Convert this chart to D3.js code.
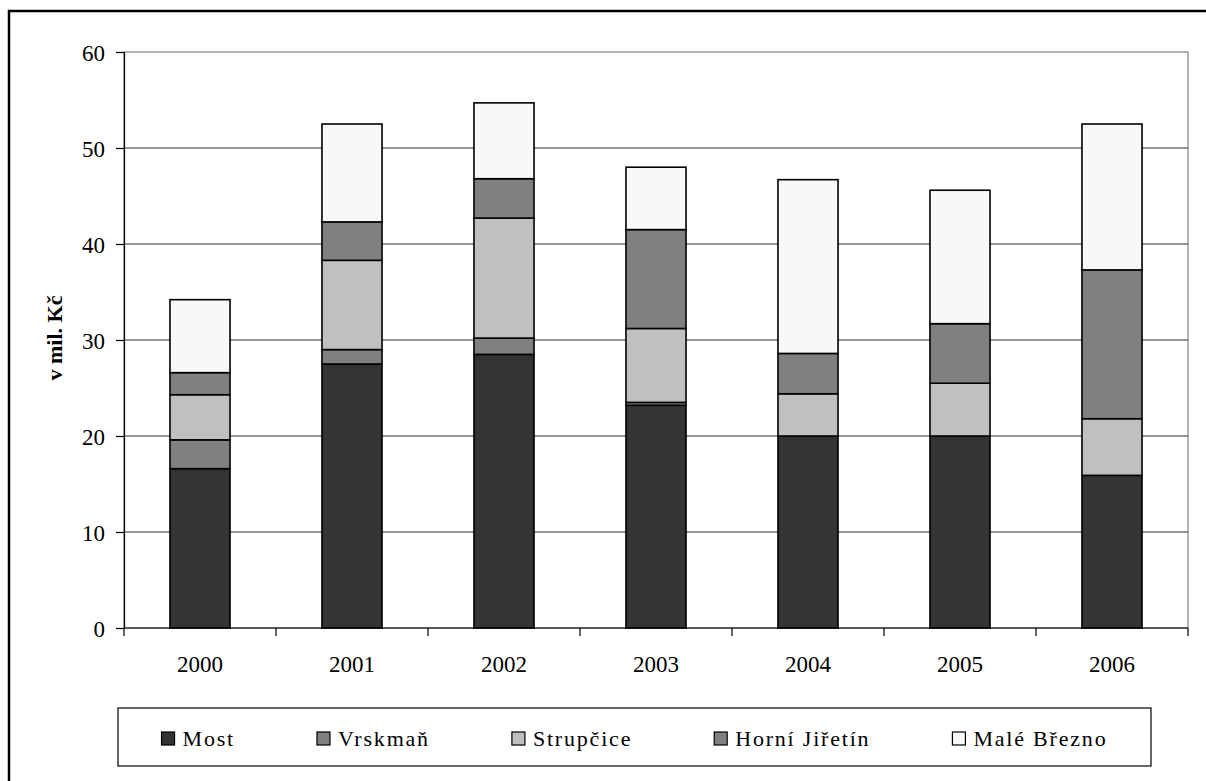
<!DOCTYPE html>
<html lang="cs">
<head>
    <meta charset="UTF-8">
    <title>v mil. Kč</title>
    <script src="https://d3js.org/d3.v7.min.js"></script>
    <style>
        body {
            margin: 0;
            background: #fff;
        }
        svg { display: block; }
        svg text { font-family: "Liberation Serif", "Times New Roman", "DejaVu Serif", serif; fill: #000; }
        .tick-label { font-size: 23px; }
        .legend-label { font-size: 22px; letter-spacing: 1.8px; }
    </style>
</head>
<body>
<svg width="1206" height="781"></svg>
<script>
    // Data (mil. Kč)
    const years = ["2000", "2001", "2002", "2003", "2004", "2005", "2006"];
    const seriesNames = ["Most", "Vrskmaň", "Strupčice", "Horní Jiřetín", "Malé Březno"];
    const most      = [16.6, 27.5, 28.5, 23.2, 20.0, 20.0, 15.9];
    const vrskman   = [3.0, 1.5, 1.7, 0.3, 0, 0, 0];
    const strupcice = [4.7, 9.3, 12.5, 7.7, 4.4, 5.5, 5.9];
    const horni     = [2.3, 4.0, 4.1, 10.3, 4.2, 6.2, 15.5];
    const maleBrezno = [7.6, 10.2, 7.9, 6.5, 18.1, 13.9, 15.2];
    const yTicks = [0, 10, 20, 30, 40, 50, 60];
    const fills = ["#333333", "#808080", "#c0c0c0", "#808080", "#f8f8f8"];

    const seriesValues = [most, vrskman, strupcice, horni, maleBrezno];
    const table = years.map((yr, i) => {
        const row = { year: yr };
        seriesNames.forEach((s, k) => row[s] = seriesValues[k][i]);
        return row;
    });

    const svg = d3.select("svg");
    const plotLeft = 124, plotRight = 1188, plotTop = 52, plotBottom = 628;

    // outer frame (right and bottom edges fall outside the picture)
    svg.append("rect")
        .attr("x", 9).attr("y", 11)
        .attr("width", 1220).attr("height", 800)
        .attr("fill", "none").attr("stroke", "#000").attr("stroke-width", 2.5);

    const x = d3.scaleBand().domain(years).range([plotLeft, plotRight])
        .paddingInner(0.605).paddingOuter(0.3025);
    const y = d3.scaleLinear().domain([0, 60]).range([plotBottom, plotTop]);

    // plot area border
    svg.append("rect")
        .attr("x", plotLeft).attr("y", plotTop)
        .attr("width", plotRight - plotLeft).attr("height", plotBottom - plotTop)
        .attr("fill", "none").attr("stroke", "#808080").attr("stroke-width", 1.2);

    // gridlines
    svg.append("g").selectAll("line")
        .data(yTicks.filter(t => t > 0 && t < 60))
        .join("line")
        .attr("x1", plotLeft).attr("x2", plotRight)
        .attr("y1", d => y(d)).attr("y2", d => y(d))
        .attr("stroke", "#333").attr("stroke-width", 1);

    // stacked bars
    const stack = d3.stack().keys(seriesNames)(table);
    svg.append("g").selectAll("g")
        .data(stack)
        .join("g")
        .attr("fill", (d, i) => fills[i])
        .selectAll("rect")
        .data(d => d.filter(p => p[1] - p[0] > 0))
        .join("rect")
        .attr("x", d => x(d.data.year))
        .attr("width", x.bandwidth())
        .attr("y", d => y(d[1]))
        .attr("height", d => y(d[0]) - y(d[1]))
        .attr("stroke", "#000")
        .attr("stroke-width", 1.6);

    // y axis
    const yAxis = svg.append("g").attr("transform", `translate(${plotLeft},0)`)
        .call(d3.axisLeft(y).tickValues(yTicks).tickSize(8).tickPadding(11));
    yAxis.attr("font-family", null).attr("font-size", null);
    yAxis.select(".domain").attr("stroke", "#000").attr("stroke-width", 1.2);
    yAxis.selectAll(".tick line").attr("stroke", "#000").attr("stroke-width", 1.2);
    yAxis.selectAll(".tick text")
        .attr("class", "tick-label")
        .attr("dy", "0.35em");

    // x axis: ticks at category boundaries
    const xAxis = svg.append("g").attr("transform", `translate(0,${plotBottom})`);
    xAxis.append("line")
        .attr("x1", plotLeft).attr("x2", plotRight)
        .attr("stroke", "#000").attr("stroke-width", 1.2);
    const step = x.step();
    xAxis.selectAll(".bnd")
        .data(d3.range(years.length + 1))
        .join("line")
        .attr("class", "bnd")
        .attr("x1", i => plotLeft + i * step).attr("x2", i => plotLeft + i * step)
        .attr("y1", 0).attr("y2", 8)
        .attr("stroke", "#000").attr("stroke-width", 1.2);
    xAxis.selectAll("text")
        .data(years)
        .join("text")
        .attr("class", "tick-label")
        .attr("x", d => x(d) + x.bandwidth() / 2)
        .attr("y", 44)
        .attr("text-anchor", "middle")
        .text(d => d);

    // y title
    svg.append("text")
        .attr("transform", `translate(62,338) rotate(-90)`)
        .attr("text-anchor", "middle")
        .style("font-size", "22px")
        .style("font-weight", "bold")
        .text("v mil. Kč");

    // legend
    svg.append("rect")
        .attr("x", 118).attr("y", 708)
        .attr("width", 1033).attr("height", 58)
        .attr("fill", "#fff").attr("stroke", "#000").attr("stroke-width", 1.2);

    const lg = svg.append("g");
    let cx = 0;
    seriesNames.forEach((name, i) => {
        const item = lg.append("g").attr("transform", `translate(${cx},0)`);
        item.append("rect")
            .attr("x", 0).attr("y", 732)
            .attr("width", 13).attr("height", 13)
            .attr("fill", fills[i]).attr("stroke", "#000").attr("stroke-width", 1.2);
        const t = item.append("text")
            .attr("class", "legend-label")
            .attr("x", 21).attr("y", 746)
            .text(name);
        cx += 21 + t.node().getComputedTextLength() + 82;
    });
    const total = cx - 82;
    lg.attr("transform", `translate(${118 + 1033 / 2 - total / 2},0)`);
</script>
</body>
</html>
